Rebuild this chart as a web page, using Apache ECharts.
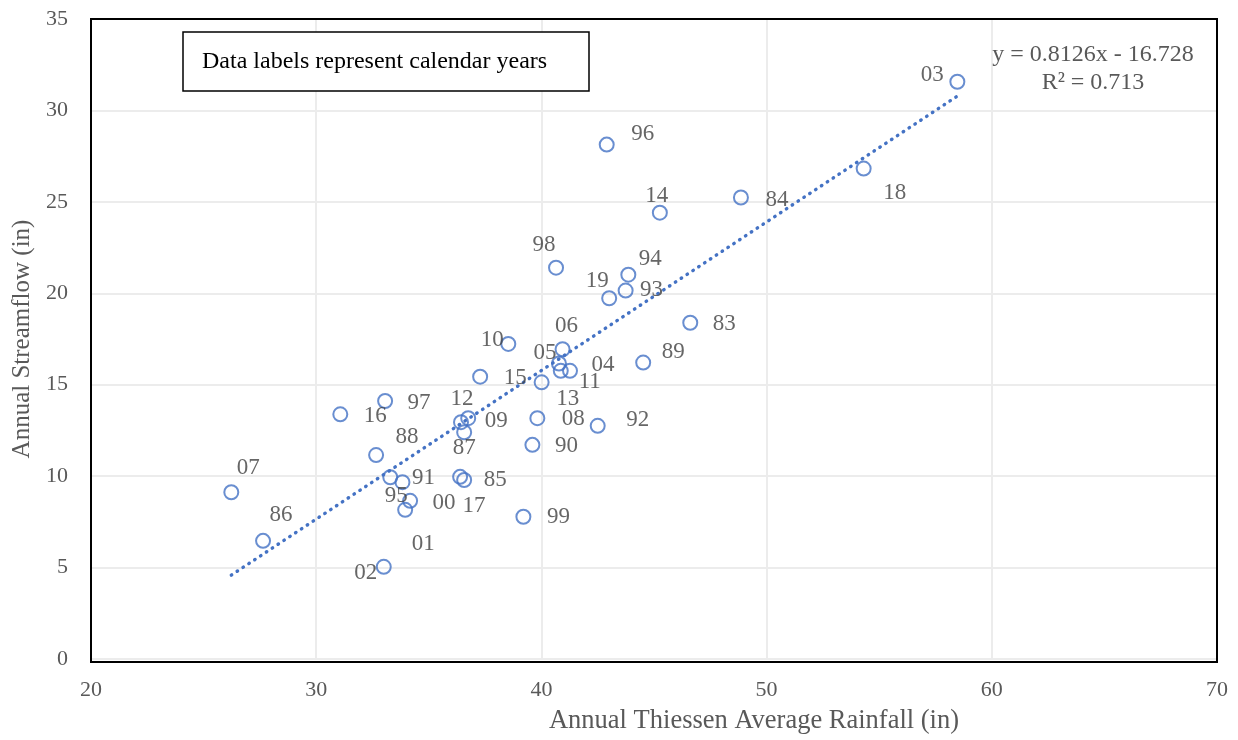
<!DOCTYPE html>
<html>
<head>
<meta charset="utf-8">
<script src="https://cdn.jsdelivr.net/npm/echarts@6/dist/echarts.min.js"></script>
<style>
  html, body { margin: 0; padding: 0; background: #fff; }
  #chart { width: 1238px; height: 740px; }
</style>
</head>
<body>
<div id="chart"></div>
<script>
// Calendar years (two-digit labels) with annual rainfall and streamflow, inches
const years = ['83','84','85','86','87','88','89','90','91','92','93','94','95','96','97','98','99',
               '00','01','02','03','04','05','06','07','08','09','10','11','12','13','14','15','16','17','18','19'];
const rainfall = [46.61, 48.86, 36.57, 27.64, 36.57, 32.66, 44.52, 39.60, 33.83, 42.50, 43.74, 43.86, 33.29, 42.90, 33.06, 40.65, 39.20,
                  34.17, 33.95, 33.00, 58.47, 41.27, 40.78, 40.94, 26.23, 39.82, 36.75, 38.53, 40.86, 36.43, 40.01, 45.26, 37.28, 31.07, 36.39, 54.31, 43.01];
const streamflow = [18.39, 25.24, 9.79, 6.46, 12.40, 11.15, 16.21, 11.71, 9.67, 12.75, 20.15, 21.02, 9.94, 28.13, 14.11, 21.40, 7.78,
                    8.65, 8.16, 5.04, 31.57, 15.76, 16.16, 16.94, 9.12, 13.17, 13.17, 17.23, 15.76, 12.95, 15.13, 24.41, 15.44, 13.38, 9.96, 26.82, 19.73];

// Linear trend stated on the chart
const slope = 0.8126;
const intercept = -16.728;
const rSquared = 0.713;

// Where each year label sits relative to its marker (pixels)
const labelOffset = {
  '83': [34, 1], '84': [36, 2], '85': [31, 0], '86': [18, -26], '87': [0, 16], '88': [31, -18],
  '89': [30, -11], '90': [34, 1], '91': [21, -4], '92': [40, -6], '93': [26, -1], '94': [22, -16],
  '95': [6, 19], '96': [36, -11], '97': [34, 2], '98': [-12, -23], '99': [35, 0], '00': [34, 2],
  '01': [18, 34], '02': [-18, 6], '03': [-25, -7], '04': [33, -6], '05': [-14, -11], '06': [4, -23],
  '07': [17, -24], '08': [36, 1], '09': [28, 3], '10': [-16, -4], '11': [29, 11], '12': [1, -23],
  '13': [26, 17], '14': [-3, -17], '15': [35, 1], '16': [35, 2], '17': [14, 29], '18': [31, 24], '19': [-12, -17]
};

const serif = 'Liberation Serif';
const gridBox = { left: 91, right: 21, top: 19, bottom: 78 };
const chartW = 1238, chartH = 740;
const xMinData = Math.min(...rainfall);
const xMaxData = Math.max(...rainfall);

const points = years.map((yr, i) => ({
  name: yr,
  value: [rainfall[i], streamflow[i]],
  label: { offset: labelOffset[yr] }
}));

const trend = [xMinData, xMaxData].map(x => [x, slope * x + intercept]);

const chart = echarts.init(document.getElementById('chart'), null, { renderer: 'canvas' });

chart.setOption({
  animation: false,
  backgroundColor: '#fff',
  grid: gridBox,
  xAxis: {
    type: 'value', min: 20, max: 70, interval: 10,
    axisLine: { show: false }, axisTick: { show: false },
    splitLine: { show: true, lineStyle: { color: '#ececec', width: 2 } },
    axisLabel: { color: '#595959', fontSize: 22, fontFamily: serif, margin: 20 },
    name: 'Annual Thiessen Average Rainfall (in)',
    nameLocation: 'middle', nameGap: 49,
    nameTextStyle: { color: '#595959', fontSize: 26.5, fontFamily: serif, padding: [0, 0, 0, 200] }
  },
  yAxis: {
    type: 'value', min: 0, max: 35, interval: 5,
    axisLine: { show: false }, axisTick: { show: false },
    splitLine: { show: true, lineStyle: { color: '#ececec', width: 2 } },
    axisLabel: { color: '#595959', fontSize: 22, fontFamily: serif, margin: 23, padding: [5, 0, 0, 0] },
    name: 'Annual Streamflow (in)',
    nameLocation: 'middle', nameGap: 54,
    nameTextStyle: { color: '#595959', fontSize: 25, fontFamily: serif }
  },
  series: [
    {
      type: 'line',
      data: trend,
      symbol: 'none',
      silent: true,
      lineStyle: { color: '#4472C4', width: 3.4, type: [0.5, 6.5], cap: 'round' },
      z: 2
    },
    {
      type: 'scatter',
      data: points,
      symbol: 'circle',
      symbolSize: 14,
      itemStyle: { color: 'rgba(255,255,255,0)', borderColor: '#4472C4', borderWidth: 2 },
      label: {
        show: true, position: 'inside', formatter: '{b}',
        color: '#404040', fontSize: 23, fontFamily: serif
      },
      emphasis: { disabled: true },
      z: 3
    }
  ],
  graphic: [
    // plot-area frame
    {
      type: 'rect', z: 10, silent: true,
      shape: {
        x: gridBox.left, y: gridBox.top,
        width: chartW - gridBox.left - gridBox.right,
        height: chartH - gridBox.top - gridBox.bottom
      },
      style: { fill: 'none', stroke: '#000', lineWidth: 2 }
    },
    // note box
    {
      type: 'rect', z: 10, silent: true,
      shape: { x: 183, y: 32, width: 406, height: 59 },
      style: { fill: '#fff', stroke: '#000', lineWidth: 1.5 }
    },
    {
      type: 'text', z: 11, silent: true, x: 202, y: 61.5,
      style: { text: 'Data labels represent calendar years', font: '24px "Liberation Serif"',
               fill: '#000', verticalAlign: 'middle', align: 'left' }
    },
    // trend equation
    {
      type: 'text', z: 11, silent: true, x: 1093, y: 41,
      style: {
        text: 'y = ' + slope + 'x - ' + Math.abs(intercept) + '\nR² = ' + rSquared,
        font: '24px "Liberation Serif"', fill: '#595959', align: 'center', verticalAlign: 'top', lineHeight: 28
      }
    }
  ]
});
</script>
</body>
</html>
